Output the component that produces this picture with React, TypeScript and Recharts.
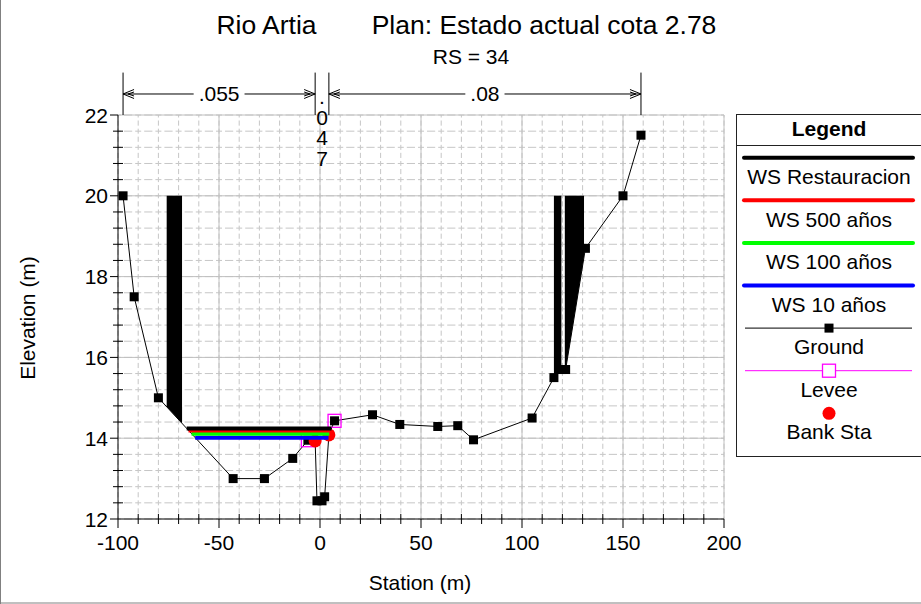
import React from 'react';
import {
  ComposedChart,
  XAxis,
  YAxis,
  CartesianGrid,
  Scatter,
  Area,
  Line,
  ReferenceLine,
} from 'recharts';

const FONT = '"Liberation Sans", Arial, Helvetica, sans-serif';

// Cross-section RS = 34 — ground survey points (station m, elevation m)
const ground = [
  { x: -97.5, y: 20.0 },
  { x: -92, y: 17.5 },
  { x: -80, y: 15.0 },
  { x: -43, y: 13.0 },
  { x: -27.5, y: 13.0 },
  { x: -13.5, y: 13.5 },
  { x: -6, y: 13.95 },
  { x: -2.4, y: 13.93 },
  { x: -1.5, y: 12.45 },
  { x: 1, y: 12.45 },
  { x: 2.3, y: 12.55 },
  { x: 4.4, y: 14.08 },
  { x: 7.2, y: 14.43 },
  { x: 26, y: 14.58 },
  { x: 39.5, y: 14.34 },
  { x: 58.3, y: 14.29 },
  { x: 68.2, y: 14.31 },
  { x: 76, y: 13.96 },
  { x: 105, y: 14.5 },
  { x: 115.8, y: 15.5 },
  { x: 119.5, y: 15.7 },
  { x: 121.6, y: 15.7 },
  { x: 131.4, y: 18.7 },
  { x: 150, y: 20.0 },
  { x: 158.9, y: 21.5 },
];

const levees = [
  { x: -6, y: 13.95 },
  { x: 7.2, y: 14.43 },
];

const bankStations = [
  { x: -2.4, y: 13.93 },
  { x: 4.4, y: 14.08 },
];

// Water surface profiles
const wsRestauracion = [
  { x: -66.0, y: 14.24 },
  { x: 5.7, y: 14.24 },
];
const ws500 = [
  { x: -65.1, y: 14.19 },
  { x: 5.3, y: 14.19 },
];
const ws100 = [
  { x: -63.6, y: 14.11 },
  { x: 4.6, y: 14.11 },
];
const ws10 = [
  { x: -61.8, y: 14.01 },
  { x: 4.2, y: 14.01 },
];

// Blocked obstructions: [ground, top] elevation at each station
const obstructionLeft = [
  { x: -75.9, r: [14.78, 20] },
  { x: -68.3, r: [14.37, 20] },
];
const obstructionRightA = [
  { x: 115.8, r: [15.5, 20] },
  { x: 119.5, r: [15.7, 20] },
];
const obstructionRightB = [
  { x: 121.2, r: [15.7, 20] },
  { x: 121.6, r: [15.7, 20] },
  { x: 130.7, r: [18.49, 20] },
];

// Manning's n zones
const nBreaks = [-97.5, -2.4, 4.4, 158.9];
const nValues = ['.055', '.047', '.08'];

// Axis ticks
const xTicks = [
  -100, -90, -80, -70, -60, -50, -40, -30, -20, -10, 0, 10, 20, 30, 40, 50, 60, 70, 80, 90, 100,
  110, 120, 130, 140, 150, 160, 170, 180, 190, 200,
];
const yTicks = [
  12, 12.4, 12.8, 13.2, 13.6, 14, 14.4, 14.8, 15.2, 15.6, 16, 16.4, 16.8, 17.2, 17.6, 18, 18.4,
  18.8, 19.2, 19.6, 20, 20.4, 20.8, 21.2, 21.6, 22,
];
const xMajor = [-50, 0, 50, 100, 150, 200];
const yMajor = [14, 16, 18, 20, 22];

const DIM_TOP = 23.05; // top of the n-value break lines
const DIM_ARROW = 22.52; // level of the dimension arrows

const legendItems = [
  { label: 'WS Restauracion', kind: 'ws', color: '#000000' },
  { label: 'WS 500 años', kind: 'ws', color: '#ff0000' },
  { label: 'WS 100 años', kind: 'ws', color: '#00ff00' },
  { label: 'WS 10 años', kind: 'ws', color: '#0000ff' },
  { label: 'Ground', kind: 'ground', color: '#000000' },
  { label: 'Levee', kind: 'levee', color: '#ff00ff' },
  { label: 'Bank Sta', kind: 'bank', color: '#ff0000' },
];

const textWidth = (s: string, size: number) =>
  s.split('').reduce((w, c) => w + (c === '.' ? 0.278 : 0.556), 0) * size;

const XTick = (props: any) => {
  const { x, y, payload } = props;
  const v = payload.value as number;
  const major = Math.abs(v / 50 - Math.round(v / 50)) < 1e-6;
  return (
    <g>
      {major ? (
        <line x1={x} y1={y} x2={x} y2={y + 9} stroke="#000" />
      ) : (
        <line x1={x} y1={y - 5} x2={x} y2={y + 5} stroke="#000" />
      )}
      {major && (
        <text x={x} y={y + 31} textAnchor="middle" fontFamily={FONT} fontSize={21} fill="#000">
          {v}
        </text>
      )}
    </g>
  );
};

const YTick = (props: any) => {
  const { x, y, payload } = props;
  const v = payload.value as number;
  const major = Math.abs(v / 2 - Math.round(v / 2)) < 1e-6;
  return (
    <g>
      {major ? (
        <line x1={x - 8} y1={y} x2={x} y2={y} stroke="#000" />
      ) : (
        <line x1={x - 5} y1={y} x2={x + 5} y2={y} stroke="#000" />
      )}
      {major && (
        <text x={x - 10} y={y + 7.5} textAnchor="end" fontFamily={FONT} fontSize={21} fill="#000">
          {Math.round(v)}
        </text>
      )}
    </g>
  );
};

const arrowHead = (x: number, y: number, dir: number) => (
  <g fill="none" stroke="#000" strokeWidth={1}>
    <path d={`M${x + dir * 11},${y - 4.5} L${x},${y} L${x + dir * 11},${y + 4.5}`} />
    <path d={`M${x + dir * 11},${y - 2} L${x + dir * 5},${y} L${x + dir * 11},${y + 2}`} />
  </g>
);

const makeDim = (label: string) => (p: any) => {
  const xa = Math.min(p.x1, p.x2);
  const xb = Math.max(p.x1, p.x2);
  const y = p.y1;
  const mid = (xa + xb) / 2;
  const half = textWidth(label, 21) / 2 + 5;
  return (
    <g>
      <line x1={xa} y1={y} x2={mid - half} y2={y} stroke="#000" />
      <line x1={mid + half} y1={y} x2={xb} y2={y} stroke="#000" />
      {arrowHead(xa, y, 1)}
      {arrowHead(xb, y, -1)}
      <text x={mid} y={y + 7.5} textAnchor="middle" fontFamily={FONT} fontSize={21} fill="#000">
        {label}
      </text>
    </g>
  );
};

// Narrow zone: the n value is written one character per row
const makeStacked = (label: string) => (p: any) => {
  const mid = (p.x1 + p.x2) / 2;
  const y = p.y1;
  return (
    <text x={mid} y={y + 10.5} textAnchor="middle" fontFamily={FONT} fontSize={21} fill="#000">
      {label.split('').map((c, i) => (
        <tspan key={i} x={mid} dy={i === 0 ? 0 : 20.5}>
          {c}
        </tspan>
      ))}
    </text>
  );
};

const groundShape = (p: any) => <rect x={p.cx - 4.5} y={p.cy - 4.5} width={9} height={9} fill="#000" />;
const leveeShape = (p: any) => (
  <rect x={p.cx - 6.5} y={p.cy - 6.5} width={13} height={13} fill="none" stroke="#ff00ff" strokeWidth={1.3} />
);
const bankShape = (p: any) => <circle cx={p.cx} cy={p.cy} r={6.5} fill="#ff0000" />;

const Legend = () => {
  const x0 = 736;
  const cx = 829;
  return (
    <g fontFamily={FONT} fill="#000">
      <rect x={x0 + 0.5} y={114.5} width={200} height={342} fill="#fff" stroke="#222" strokeWidth={1} />
      <line x1={x0} y1={145.5} x2={921} y2={145.5} stroke="#222" />
      <text x={cx} y={136} textAnchor="middle" fontSize={21} fontWeight="bold">
        Legend
      </text>
      {legendItems.map((it, i) => {
        const sy = 157.7 + i * 42.6;
        const ty = 184 + i * 42.55;
        return (
          <g key={it.label}>
            {it.kind === 'ws' && (
              <line x1={744} y1={sy} x2={913} y2={sy} stroke={it.color} strokeWidth={4} strokeLinecap="round" />
            )}
            {it.kind === 'ground' && (
              <g>
                <line x1={745} y1={sy} x2={912} y2={sy} stroke="#000" strokeWidth={1} />
                <rect x={cx - 4.5} y={sy - 4.5} width={9} height={9} fill="#000" />
              </g>
            )}
            {it.kind === 'levee' && (
              <g>
                <line x1={745} y1={sy} x2={912} y2={sy} stroke="#ff00ff" strokeWidth={1} />
                <rect x={cx - 6.5} y={sy - 6.5} width={13} height={13} fill="#fff" stroke="#ff00ff" strokeWidth={1.3} />
              </g>
            )}
            {it.kind === 'bank' && <circle cx={cx} cy={sy} r={6.5} fill="#ff0000" />}
            <text x={cx} y={ty} textAnchor="middle" fontSize={21}>
              {it.label}
            </text>
          </g>
        );
      })}
    </g>
  );
};

export default function App() {
  return (
    <div style={{ position: 'absolute', left: 0, top: 0, width: 921, height: 604, background: '#fff' }}>
      <ComposedChart
        width={921}
        height={604}
        margin={{ top: 115, right: 197, bottom: 84, left: 117 }}
        style={{ position: 'absolute', left: 0, top: 0 }}
      >
        <CartesianGrid horizontal vertical={false} stroke="#c6c6c6" strokeDasharray="3 3 8.2 3 3 0" />
        <CartesianGrid horizontal={false} vertical stroke="#c6c6c6" strokeDasharray="2.5 3 5.16 3 2.5 0" />
        <XAxis
          type="number"
          dataKey="x"
          domain={[-100, 200]}
          ticks={xTicks}
          interval={0}
          allowDataOverflow
          height={1}
          tickSize={0}
          tickMargin={0}
          tickLine={false}
          tick={XTick}
          axisLine={{ stroke: '#000' }}
        />
        <YAxis
          type="number"
          dataKey="y"
          domain={[12, 22]}
          ticks={yTicks}
          interval={0}
          allowDataOverflow
          width={1}
          tickSize={0}
          tickMargin={0}
          tickLine={false}
          tick={YTick}
          axisLine={{ stroke: '#000' }}
        />
        {xMajor.map((v) => (
          <ReferenceLine key={`gx${v}`} x={v} stroke="#c0c0c0" strokeWidth={1} zIndex={-50} />
        ))}
        {yMajor.map((v) => (
          <ReferenceLine key={`gy${v}`} y={v} stroke="#c0c0c0" strokeWidth={1} zIndex={-50} />
        ))}

        <Area data={obstructionLeft} dataKey="r" type="linear" stroke="none" fill="#000" fillOpacity={1} isAnimationActive={false} zIndex={100} />
        <Area data={obstructionRightA} dataKey="r" type="linear" stroke="none" fill="#000" fillOpacity={1} isAnimationActive={false} zIndex={100} />
        <Area data={obstructionRightB} dataKey="r" type="linear" stroke="none" fill="#000" fillOpacity={1} isAnimationActive={false} zIndex={100} />

        <Scatter
          data={ground}
          fill="#000"
          line={{ stroke: '#000', strokeWidth: 1 }}
          shape={groundShape}
          isAnimationActive={false}
          zIndex={300}
        />
        <Scatter data={levees} shape={leveeShape} isAnimationActive={false} zIndex={350} />
        <Scatter data={bankStations} shape={bankShape} isAnimationActive={false} zIndex={350} />

        <Line data={ws10} dataKey="y" stroke="#0000ff" strokeWidth={4} dot={false} activeDot={false} isAnimationActive={false} zIndex={400} />
        <Line data={ws100} dataKey="y" stroke="#00ff00" strokeWidth={4} dot={false} activeDot={false} isAnimationActive={false} zIndex={401} />
        <Line data={ws500} dataKey="y" stroke="#ff0000" strokeWidth={4} dot={false} activeDot={false} isAnimationActive={false} zIndex={402} />
        <Line data={wsRestauracion} dataKey="y" stroke="#000000" strokeWidth={4} dot={false} activeDot={false} isAnimationActive={false} zIndex={403} />

        {nBreaks.map((b) => (
          <ReferenceLine
            key={`nb${b}`}
            segment={[
              { x: b, y: 22 },
              { x: b, y: DIM_TOP },
            ]}
            stroke="#000"
            strokeWidth={1}
            ifOverflow="visible"
          />
        ))}
        {nValues.map((label, i) => (
          <ReferenceLine
            key={`nv${i}`}
            segment={[
              { x: nBreaks[i], y: DIM_ARROW },
              { x: nBreaks[i + 1], y: DIM_ARROW },
            ]}
            ifOverflow="visible"
            shape={i === 1 ? makeStacked(label) : makeDim(label)}
          />
        ))}
      </ComposedChart>

      <svg
        width={921}
        height={604}
        style={{ position: 'absolute', left: 0, top: 0, pointerEvents: 'none' }}
      >
        <g fontFamily={FONT} fill="#000">
          <text x={266.5} y={34} textAnchor="middle" fontSize={26.5}>
            Rio Artia
          </text>
          <text x={544} y={34} textAnchor="middle" fontSize={26.5}>
            Plan: Estado actual cota 2.78
          </text>
          <text x={471} y={63.5} textAnchor="middle" fontSize={21}>
            RS = 34
          </text>
          <text x={420} y={590} textAnchor="middle" fontSize={21}>
            Station (m)
          </text>
          <text x={34.5} y={318} textAnchor="middle" fontSize={21} transform="rotate(-90 34.5 318)">
            Elevation (m)
          </text>
        </g>
        <Legend />
        <line x1={0.5} y1={0} x2={0.5} y2={604} stroke="#808080" />
        <line x1={0} y1={603} x2={921} y2={603} stroke="#808080" />
      </svg>
    </div>
  );
}
